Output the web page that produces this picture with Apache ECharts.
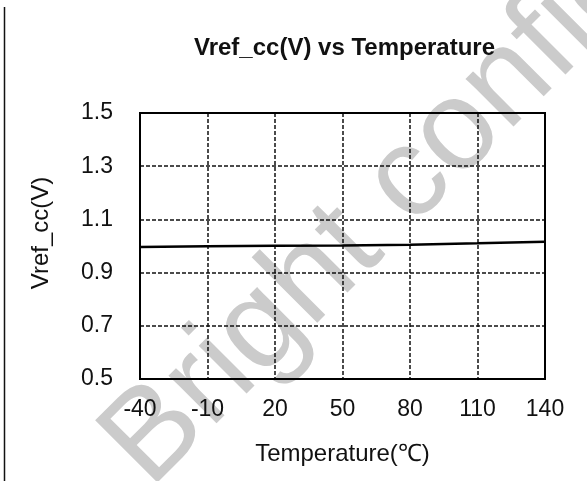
<!DOCTYPE html>
<html>
<head>
<meta charset="utf-8">
<script src="https://cdn.jsdelivr.net/npm/echarts@6/dist/echarts.min.js"></script>
<style>
  html, body { margin: 0; padding: 0; background: #fff; }
  #box { width: 587px; height: 481px; }
</style>
</head>
<body>
<div id="box"></div>
<script>
// temperatures (℃) and the measured Vref_cc (V)
let temps = [-40, -10, 20, 50, 80, 110, 140];
let vref = [0.996, 0.999, 1.001, 1.002, 1.005, 1.01, 1.016];

let chart = echarts.init(document.getElementById("box"), null, { renderer: "canvas" });
let font = "'Liberation Sans', Arial, sans-serif";
let gridLine = { show: true, lineStyle: { color: "#111", width: 1.5, type: [4, 2] } };

let option = {
  backgroundColor: "#fff",
  animation: false,
  title: {
    text: "Vref_cc(V) vs Temperature",
    left: 189,
    top: 31,
    textStyle: { fontFamily: font, fontSize: 24, fontWeight: "bold", color: "#111" }
  },
  // watermark + the thin frame line on the left
  graphic: [
    {
      type: "text",
      x: 125,
      y: 465,
      rotation: (45 * Math.PI) / 180,
      z: 0,
      style: {
        text: "Bright confidential",
        font: "128px " + font,
        fill: "#cbcbcb",
        verticalAlign: "middle",
        align: "left"
      }
    },
    {
      type: "line",
      shape: { x1: 4.5, y1: 7, x2: 4.5, y2: 481 },
      style: { stroke: "#111", lineWidth: 1.5 }
    }
  ],
  grid: {
    left: 140,
    right: 42,
    top: 113,
    bottom: 102,
    show: true,
    borderColor: "#000",
    borderWidth: 2,
    z: 3
  },
  xAxis: {
    type: "value",
    min: -40,
    max: 140,
    interval: 30,
    name: "Temperature(℃)",
    nameLocation: "middle",
    nameGap: 63,
    nameTextStyle: { fontFamily: font, fontSize: 24, color: "#111" },
    axisLine: { show: false },
    axisTick: { show: false },
    axisLabel: { margin: 19, fontFamily: font, fontSize: 23, color: "#111" },
    splitLine: gridLine
  },
  yAxis: {
    type: "value",
    min: 0.5,
    max: 1.5,
    interval: 0.2,
    name: "Vref_cc(V)",
    nameLocation: "middle",
    nameGap: 87,
    nameTextStyle: { fontFamily: font, fontSize: 24, color: "#111", padding: [0, 0, 0, 26] },
    axisLine: { show: false },
    axisTick: { show: false },
    axisLabel: {
      margin: 27,
      fontFamily: font,
      fontSize: 23,
      color: "#111",
      formatter: v => v.toFixed(1)
    },
    splitLine: gridLine
  },
  series: [
    {
      type: "line",
      data: temps.map((t, i) => [t, vref[i]]),
      showSymbol: false,
      lineStyle: { color: "#000", width: 2.5 },
      z: 4
    }
  ]
};

chart.setOption(option);
</script>
</body>
</html>
